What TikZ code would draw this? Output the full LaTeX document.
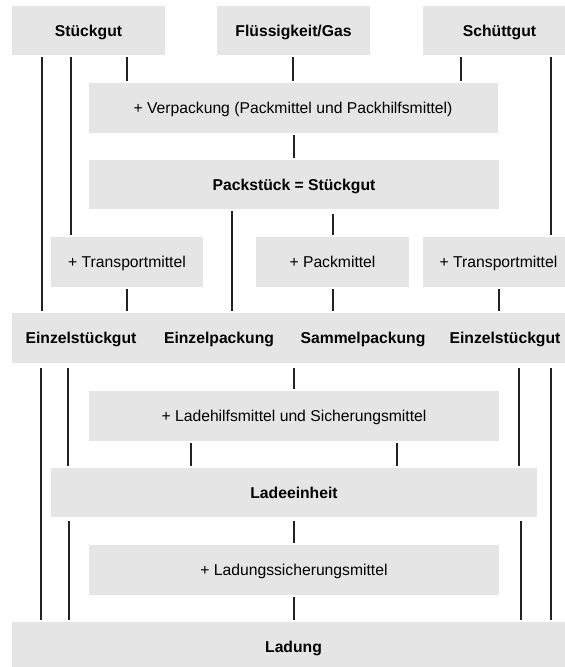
\documentclass[tikz,border=0pt]{standalone}
\usepackage{fontspec}
\setmainfont{Liberation Sans}
\definecolor{boxgray}{HTML}{E5E5E5}
\definecolor{linegray}{HTML}{222222}
\begin{document}
\begin{tikzpicture}[x=1pt,y=-1pt,
  box/.style={fill=boxgray, draw=none, inner sep=0pt, text height=11.2pt, text depth=0pt,
    font=\fontsize{15.7}{18}\selectfont},
  title/.style={box, font=\fontsize{15.7}{18}\selectfont\bfseries},
  link/.style={draw=linegray, line width=1.1pt, shorten <=2pt, shorten >=2pt},
  linkb/.style={link, shorten <=5pt}]
\path[use as bounding box, clip] (0,0) rectangle (565,667);

% top row: kinds of goods
\node[title, minimum width=153pt, minimum height=49pt] (stueck)  at (88.5,30.5) {Stückgut};
\node[title, minimum width=153pt, minimum height=49pt] (fluess)  at (293.5,30.5) {Flüssigkeit/Gas};
\node[title, minimum width=153pt, minimum height=49pt] (schuett) at (499.5,30.5) {Schüttgut};

% packaging
\node[box, minimum width=409pt, minimum height=50pt] (verp) at (293,108) {+ Verpackung (Packmittel und Packhilfsmittel)};
\node[title, minimum width=410pt, minimum height=49pt] (packst) at (294,184.5) {Packstück = Stückgut};

% additions
\node[box, minimum width=152pt, minimum height=50pt] (tmA) at (127,262) {+ Transportmittel};
\node[box, minimum width=153pt, minimum height=50pt] (pm)  at (332.5,262) {+ Packmittel};
\node[box, minimum width=151pt, minimum height=50pt] (tmB) at (498.5,262) {+ Transportmittel};

% band of results
\node[title, minimum width=138pt, minimum height=50pt] (ezA) at (81,338) {Einzelstückgut};
\node[title, minimum width=138pt, minimum height=50pt] (ep)  at (219,338) {Einzelpackung};
\node[title, minimum width=150pt, minimum height=50pt] (sp)  at (363,338) {Sammelpackung};
\node[title, minimum width=134pt, minimum height=50pt] (ezB) at (505,338) {Einzelstückgut};

% loading
\node[box, minimum width=410pt, minimum height=50pt] (lhm) at (294,416) {+ Ladehilfsmittel und Sicherungsmittel};
\node[title, minimum width=486pt, minimum height=49pt] (le) at (294,492.5) {Ladeeinheit};
\node[box, minimum width=410pt, minimum height=50pt] (lsm) at (294,570) {+ Ladungssicherungsmittel};
\node[title, minimum width=563pt, minimum height=50pt] (ladung) at (293.5,647) {Ladung};

% vertical columns of the connectors
\coordinate (c41)  at (41,0);
\coordinate (c42)  at (42,0);
\coordinate (c68)  at (68,0);
\coordinate (c69)  at (69,0);
\coordinate (c71)  at (71,0);
\coordinate (c127) at (127,0);
\coordinate (c191) at (191,0);
\coordinate (c232) at (232,0);
\coordinate (c293) at (293,0);
\coordinate (c294) at (294,0);
\coordinate (c333) at (333,0);
\coordinate (c397) at (397,0);
\coordinate (c461) at (461,0);
\coordinate (c499) at (499,0);
\coordinate (c519) at (519,0);
\coordinate (c521) at (521,0);
\coordinate (c551) at (551,0);

% connectors
\draw[link] (stueck.south -| c42)  -- (ezA.north -| c42);
\draw[link] (stueck.south -| c71)  -- (tmA.north -| c71);
\draw[link] (stueck.south -| c127) -- (verp.north -| c127);
\draw[link] (fluess.south -| c293) -- (verp.north -| c293);
\draw[link] (schuett.south -| c461) -- (verp.north -| c461);
\draw[link] (schuett.south -| c551) -- (tmB.north -| c551);

\draw[link] (verp.south -| c294) -- (packst.north -| c294);
\draw[link] (packst.south -| c232) -- (ep.north -| c232);
\draw[link, shorten <=5pt] (packst.south -| c333) -- (pm.north -| c333);

\draw[link] (tmA.south -| c127) -- (ezA.north -| c127);
\draw[link] (pm.south -| c333)  -- (sp.north -| c333);
\draw[link] (tmB.south -| c499) -- (ezB.north -| c499);

\draw[linkb] (ezA.south -| c41) -- (ladung.north -| c41);
\draw[linkb] (ezA.south -| c68) -- (le.north -| c68);
\draw[linkb] (sp.south -| c294) -- (lhm.north -| c294);
\draw[linkb] (ezB.south -| c519) -- (le.north -| c519);
\draw[linkb] (ezB.south -| c551) -- (ladung.north -| c551);

\draw[link] (lhm.south -| c191) -- (le.north -| c191);
\draw[link] (lhm.south -| c397) -- (le.north -| c397);

\draw[link, shorten <=4pt] (le.south -| c69)  -- (ladung.north -| c69);
\draw[link, shorten <=4pt] (le.south -| c294) -- (lsm.north -| c294);
\draw[link, shorten <=4pt] (le.south -| c521) -- (ladung.north -| c521);
\draw[link] (lsm.south -| c294) -- (ladung.north -| c294);
\end{tikzpicture}
\end{document}
